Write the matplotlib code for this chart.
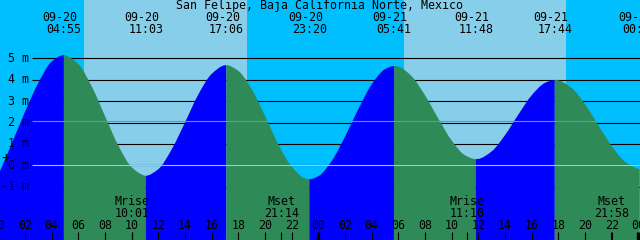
import matplotlib
matplotlib.use("Agg")
import matplotlib.pyplot as plt
from matplotlib.path import Path
from matplotlib.patches import PathPatch
import numpy as np

title = "San Felipe, Baja California Norte, Mexico"

# hourly tide heights (m), hours from 09-20 00:00
hours = list(range(49))
heights = [-0.45, 1.0, 2.5, 3.85, 4.85, 5.14, 4.73, 3.69, 2.30, 0.92,
           -0.09, -0.485, -0.18, 0.74, 2.00, 3.31, 4.27, 4.675, 4.41, 3.56,
           2.31, 0.98, -0.06, -0.61, -0.51, 0.20, 1.34, 2.63, 3.78, 4.49,
           4.61, 4.16, 3.27, 2.18, 1.16, 0.47, 0.30, 0.65, 1.41, 2.37,
           3.27, 3.85, 3.97, 3.61, 2.86, 1.87, 0.90, 0.17, -0.17]

# highs and lows
ext_times = [4.917, 11.05, 17.1, 23.333, 29.683, 35.8, 41.733, 48.08]
ext_heights = [5.15, -0.49, 4.68, -0.65, 4.64, 0.29, 3.99, -0.18]
ext_dates = ["09-20", "09-20", "09-20", "09-20", "09-21", "09-21", "09-21", "09-22"]
ext_labels = ["04:55", "11:03", "17:06", "23:20", "05:41", "11:48", "17:44", "00:05"]

# daylight (sunrise, sunset)
daylight = [(6.42, 18.65), (30.43, 42.58)]

# moon events
moon_times = [10.017, 21.233, 35.167, 45.967]
moon_names = ["Mrise", "Mset", "Mrise", "Mset"]
moon_labels = ["10:01", "21:14", "11:10", "21:58"]

levels = [-1, 0, 1, 2, 3, 4, 5]
msl = 2.08

x0, x1 = 0.125, 48.125
y0, y1 = -3.49, 7.724
font = "DejaVu Sans Mono"
fs = 8.4


def slopes(t, h):
    # monotone (Fritsch-Carlson) tangents, flat at highs and lows
    dt = np.diff(t)
    d = np.diff(h) / dt
    m = np.zeros_like(h)
    m[0], m[-1] = d[0], d[-1]
    for k in range(1, len(h) - 1):
        if d[k - 1] * d[k] <= 0:
            continue
        w1 = 2 * dt[k] + dt[k - 1]
        w2 = dt[k] + 2 * dt[k - 1]
        m[k] = (w1 + w2) / (w1 / d[k - 1] + w2 / d[k])
    return m


fig = plt.figure(figsize=(6.4, 2.4), dpi=100)
ax = fig.add_axes([0, 0, 1, 1])
ax.set_xlim(x0, x1)
ax.set_ylim(y0, y1)
ax.axis("off")
tr = ax.get_xaxis_transform()

# night / day background
ax.axvspan(x0 - 1, x1 + 1, color="#00bfff", lw=0, zorder=0)
for rise, sset in daylight:
    ax.axvspan(rise, sset, color="#87ceeb", lw=0, zorder=0)

# grid lines sit behind the tide
grid_start = 2.525
ax.hlines(levels, grid_start, x1, colors="black", lw=0.8, zorder=1)

# tide curve, blue while rising and green while falling
t = np.array(hours + ext_times, dtype=float)
h = np.array(heights + ext_heights, dtype=float)
order = np.argsort(t)
t, h = t[order], h[order]
m = slopes(t, h)
bounds = [t[0]] + ext_times
for i in range(len(bounds) - 1):
    idx = np.where((t >= bounds[i]) & (t <= bounds[i + 1]))[0]
    verts = [(t[idx[0]], y0), (t[idx[0]], h[idx[0]])]
    codes = [Path.MOVETO, Path.LINETO]
    for a, b in zip(idx[:-1], idx[1:]):
        step = (t[b] - t[a]) / 3
        verts += [(t[a] + step, h[a] + m[a] * step),
                  (t[b] - step, h[b] - m[b] * step),
                  (t[b], h[b])]
        codes += [Path.CURVE4] * 3
    verts += [(t[idx[-1]], y0), (t[idx[0]], y0)]
    codes += [Path.LINETO, Path.CLOSEPOLY]
    rising = h[idx[-1]] > h[idx[0]]
    col = "#0000ff" if rising else "#2e8b57"
    ax.add_patch(PathPatch(Path(verts, codes), facecolor=col, lw=0, zorder=2))

# mean sea level and datum
ax.hlines(msl, grid_start, x1, colors="#5f9ea0", lw=0.8, zorder=3)
ax.hlines(0, grid_start, x1, colors="#8ecfe8", lw=0.8, zorder=3)

# level labels
for lv in levels:
    ax.text(2.3, lv, f"{lv} m", ha="right", va="center", family=font,
            fontsize=fs, zorder=5)
ax.text(0.54, 0.34, "+", ha="center", va="center", family=font,
        fontsize=fs + 2, zorder=5)

ax.text(24.1, 0.977, title, transform=tr, ha="center", va="center",
        family=font, fontsize=fs, zorder=5)

for et, d, lab in zip(ext_times, ext_dates, ext_labels):
    ax.text(et - 0.3, 0.927, d, transform=tr, ha="center", va="center",
            family=font, fontsize=fs, zorder=5)
    ax.text(et, 0.877, lab, transform=tr, ha="center", va="center",
            family=font, fontsize=fs, zorder=5)

for mt, name, lab in zip(moon_times, moon_names, moon_labels):
    ax.text(mt, 0.160, name, transform=tr, ha="center", va="center",
            family=font, fontsize=fs, zorder=5)
    ax.text(mt, 0.111, lab, transform=tr, ha="center", va="center",
            family=font, fontsize=fs, zorder=5)
ax.vlines(moon_times, 0, 8 / 240, transform=tr, colors="black", lw=0.8, zorder=5)

# hour ticks along the bottom
for hr in range(0, 49, 2):
    ax.text(hr, 0.060, f"{hr % 24:02d}", transform=tr, ha="center",
            va="center", family=font, fontsize=fs, zorder=5)
    lw = 2.4 if hr % 24 == 0 else 0.8
    ax.vlines(hr, 0, 8 / 240, transform=tr, colors="black", lw=lw, zorder=5)

fig.savefig("out.png", dpi=100)
plt.close(fig)
